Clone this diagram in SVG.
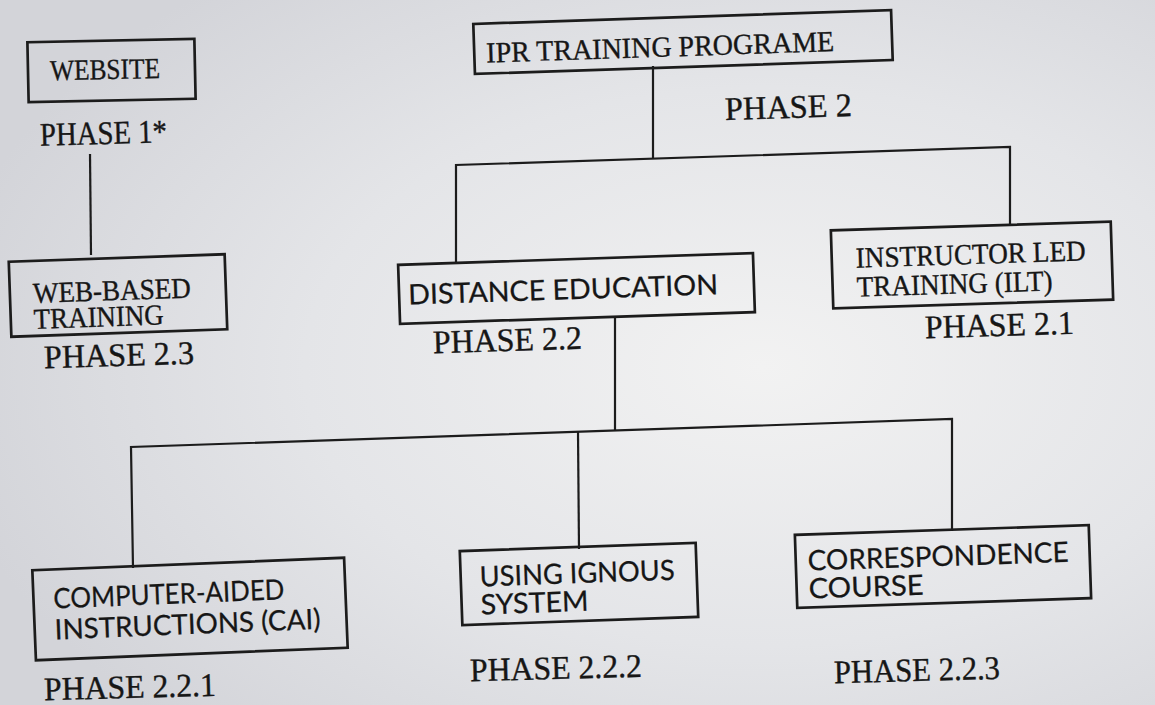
<svg xmlns="http://www.w3.org/2000/svg" width="1155" height="705" viewBox="0 0 1155 705">
<defs>
<radialGradient id="paper" cx="0.66" cy="0.52" r="0.72">
<stop offset="0" stop-color="#f2f2f2"/>
<stop offset="0.55" stop-color="#e4e5e8"/>
<stop offset="1" stop-color="#d3d4d9"/>
</radialGradient>
<style>
.box{fill:none;stroke:#1c1c1c;stroke-width:2.7}
.conn{fill:none;stroke:#1c1c1c;stroke-width:2.2}
.serif{font-family:"Liberation Serif","Times New Roman",serif;font-size:29px;fill:#161616;stroke:#161616;stroke-width:0.35}
.sans{font-family:Lato,"Liberation Sans",sans-serif;font-size:28px;fill:#161616;stroke:#161616;stroke-width:0.25}
.ph{font-family:"Liberation Serif","Times New Roman",serif;font-size:33px;fill:#161616;stroke:#161616;stroke-width:0.4}
</style>
</defs>
<rect x="0" y="0" width="1155" height="705" fill="url(#paper)"/>

<g id="connectors">
<path class="conn" d="M90,154 L91,255"/>
<path class="conn" d="M653,66 V158"/>
<path class="conn" d="M456,264 V165 L1010,147 V224"/>
<path class="conn" d="M615,316 V430"/>
<path class="conn" d="M133,568 L131,447 L952,419 V531"/>
<path class="conn" d="M578,432 L579,549"/>
</g>

<g id="node-website">
<rect class="box" x="28" y="40.5" width="167" height="60" transform="rotate(-1.2 111.5 70.5)"/>
<text class="serif" x="50" y="79" textLength="110" lengthAdjust="spacingAndGlyphs" transform="rotate(-1.2 111.5 70.5)">WEBSITE</text>
<text class="ph" x="40" y="144" textLength="127" lengthAdjust="spacingAndGlyphs" transform="rotate(-1.5 103 136)">PHASE 1*</text>
</g>

<g id="node-ipr">
<rect class="box" x="474" y="17" width="418" height="50" transform="rotate(-1.9 683 42)"/>
<text class="serif" x="486" y="56" textLength="348" lengthAdjust="spacingAndGlyphs" transform="rotate(-1.9 683 42)">IPR TRAINING PROGRAME</text>
<text class="ph" x="725" y="118" textLength="127" lengthAdjust="spacingAndGlyphs" transform="rotate(-1.8 788 110)">PHASE 2</text>
</g>

<g id="node-web-based">
<rect class="box" x="10" y="258" width="216" height="75" transform="rotate(-2 118 295.5)"/>
<g transform="rotate(-2 118 295.5)">
<text class="serif" x="33" y="300" textLength="158" lengthAdjust="spacingAndGlyphs">WEB-BASED</text>
<text class="serif" x="33" y="326" textLength="130" lengthAdjust="spacingAndGlyphs">TRAINING</text>
</g>
<text class="ph" x="44" y="366" textLength="150" lengthAdjust="spacingAndGlyphs" transform="rotate(-1.8 119 358)">PHASE 2.3</text>
</g>

<g id="node-distance">
<rect class="box" x="399" y="259" width="355" height="59" transform="rotate(-1.9 576.5 288.5)"/>
<text class="sans" x="408" y="299" textLength="310" lengthAdjust="spacingAndGlyphs" transform="rotate(-1.9 576.5 288.5)">DISTANCE EDUCATION</text>
<text class="ph" x="433" y="351" textLength="149" lengthAdjust="spacingAndGlyphs" transform="rotate(-1.8 507 343)">PHASE 2.2</text>
</g>

<g id="node-ilt">
<rect class="box" x="832" y="226" width="280" height="78" transform="rotate(-1.8 972 265)"/>
<g transform="rotate(-1.8 972 265)">
<text class="serif" x="856" y="264" textLength="230" lengthAdjust="spacingAndGlyphs">INSTRUCTOR LED</text>
<text class="serif" x="856" y="293" textLength="196" lengthAdjust="spacingAndGlyphs">TRAINING (ILT)</text>
</g>
<text class="ph" x="925" y="336" textLength="149" lengthAdjust="spacingAndGlyphs" transform="rotate(-1.8 1000 328)">PHASE 2.1</text>
</g>

<g id="node-cai">
<rect class="box" x="34" y="564" width="312" height="90" transform="rotate(-2.3 190 609)"/>
<g transform="rotate(-2.3 190 609)">
<text class="sans" x="54" y="603" textLength="231" lengthAdjust="spacingAndGlyphs">COMPUTER-AIDED</text>
<text class="sans" x="54" y="634" textLength="266" lengthAdjust="spacingAndGlyphs">INSTRUCTIONS (CAI)</text>
</g>
<text class="ph" x="44" y="698" textLength="172" lengthAdjust="spacingAndGlyphs" transform="rotate(-1.5 130 690)">PHASE 2.2.1</text>
</g>

<g id="node-ignous">
<rect class="box" x="461" y="547" width="236" height="74" transform="rotate(-2 579 584)"/>
<g transform="rotate(-2 579 584)">
<text class="sans" x="480" y="583" textLength="195" lengthAdjust="spacingAndGlyphs">USING IGNOUS</text>
<text class="sans" x="480" y="611" textLength="108" lengthAdjust="spacingAndGlyphs">SYSTEM</text>
</g>
<text class="ph" x="470" y="679" textLength="172" lengthAdjust="spacingAndGlyphs" transform="rotate(-1.5 556 671)">PHASE 2.2.2</text>
</g>

<g id="node-correspondence">
<rect class="box" x="796" y="530" width="294" height="73" transform="rotate(-1.9 943 566.5)"/>
<g transform="rotate(-1.9 943 566.5)">
<text class="sans" x="808" y="566" textLength="261" lengthAdjust="spacingAndGlyphs">CORRESPONDENCE</text>
<text class="sans" x="808" y="594" textLength="115" lengthAdjust="spacingAndGlyphs">COURSE</text>
</g>
<text class="ph" x="834" y="681" textLength="166" lengthAdjust="spacingAndGlyphs" transform="rotate(-1.5 917 673)">PHASE 2.2.3</text>
</g>
</svg>
